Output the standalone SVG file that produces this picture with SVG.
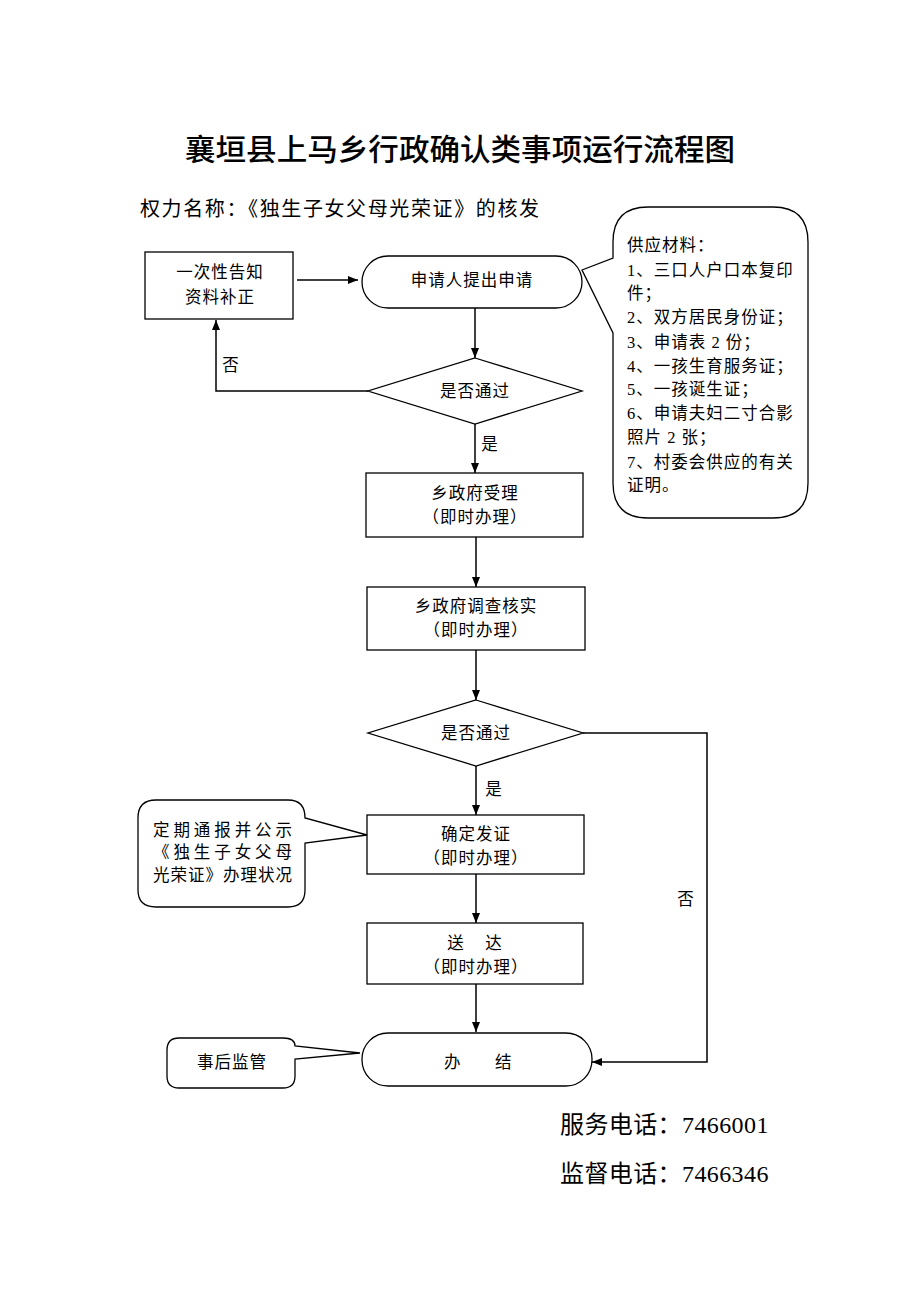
<svg xmlns="http://www.w3.org/2000/svg" width="920" height="1302" viewBox="0 0 920 1302">
<style>
.t{font-family:"Liberation Serif","Noto Sans CJK SC",serif;font-size:16.5px;letter-spacing:1px;fill:#000}
.c{text-anchor:middle}
.shape{fill:#fff;stroke:#000;stroke-width:1.3}
.ln{fill:none;stroke:#000;stroke-width:1.5}
</style>
<defs>
<marker id="ah" markerUnits="userSpaceOnUse" markerWidth="10" markerHeight="8" refX="10" refY="4" orient="auto">
<path d="M0,0 L10,4 L0,8 Z" fill="#000"/>
</marker>
</defs>
<rect width="920" height="1302" fill="#fff"/>

<g id="title">
<text x="185" y="160" textLength="550" lengthAdjust="spacingAndGlyphs" style="font-family:'Noto Sans CJK SC',sans-serif;font-size:30px;font-weight:500;fill:#000">襄垣县上马乡行政确认类事项运行流程图</text>
</g>
<g id="subtitle">
<text x="140" y="216" textLength="400" lengthAdjust="spacing" class="t" style="font-size:20px">权力名称：《独生子女父母光荣证》的核发</text>
</g>

<g id="connectors">
<line class="ln" x1="297" y1="280" x2="358" y2="280" marker-end="url(#ah)"/>
<line class="ln" x1="475" y1="308" x2="475" y2="358" marker-end="url(#ah)"/>
<polyline class="ln" points="368,391 216,391 216,320" marker-end="url(#ah)"/>
<line class="ln" x1="475" y1="424" x2="475" y2="473" marker-end="url(#ah)"/>
<line class="ln" x1="476" y1="537" x2="476" y2="587" marker-end="url(#ah)"/>
<line class="ln" x1="476" y1="650" x2="476" y2="700" marker-end="url(#ah)"/>
<line class="ln" x1="476" y1="766" x2="476" y2="815" marker-end="url(#ah)"/>
<line class="ln" x1="476" y1="874" x2="476" y2="923" marker-end="url(#ah)"/>
<line class="ln" x1="476" y1="984" x2="476" y2="1032" marker-end="url(#ah)"/>
<polyline class="ln" points="583,733 707,733 707,1062 592,1062" marker-end="url(#ah)"/>
<text class="t c" x="231" y="371">否</text>
<text class="t c" x="490" y="450">是</text>
<text class="t c" x="494" y="795">是</text>
<text class="t c" x="686" y="905">否</text>
</g>

<g id="notify">
<rect class="shape" x="145" y="252" width="148" height="67"/>
<text class="t c" x="220" y="278">一次性告知</text>
<text class="t c" x="220" y="303">资料补正</text>
</g>

<g id="apply">
<rect class="shape" x="362" y="256" width="220" height="52" rx="26" ry="26"/>
<text class="t c" x="472" y="286">申请人提出申请</text>
</g>

<g id="materials">
<path class="shape" d="M648,207 H773 Q808,207 808,242 V483 Q808,518 773,518 H648 Q613,518 613,483 V333 L582,270 L613,258 V242 Q613,207 648,207 Z"/>
<text class="t" x="627" y="251">供应材料：</text>
<text class="t" x="627" y="276">1、三口人户口本复印</text>
<text class="t" x="627" y="299">件；</text>
<text class="t" x="627" y="323">2、双方居民身份证；</text>
<text class="t" x="627" y="348">3、申请表 2 份；</text>
<text class="t" x="627" y="372">4、一孩生育服务证；</text>
<text class="t" x="627" y="395">5、一孩诞生证；</text>
<text class="t" x="627" y="419">6、申请夫妇二寸合影</text>
<text class="t" x="627" y="443">照片 2 张；</text>
<text class="t" x="627" y="468">7、村委会供应的有关</text>
<text class="t" x="627" y="491">证明。</text>
</g>

<g id="check1">
<polygon class="shape" points="475,358 582,391 475,424 368,391"/>
<text class="t c" x="475" y="397">是否通过</text>
</g>

<g id="accept">
<rect class="shape" x="366" y="473" width="217" height="64"/>
<text class="t c" x="475" y="499">乡政府受理</text>
<text class="t c" x="475" y="523">（即时办理）</text>
</g>

<g id="investigate">
<rect class="shape" x="367" y="587" width="218" height="63"/>
<text class="t c" x="476" y="612">乡政府调查核实</text>
<text class="t c" x="476" y="636">（即时办理）</text>
</g>

<g id="check2">
<polygon class="shape" points="476,700 583,733 476,766 368,733"/>
<text class="t c" x="476" y="739">是否通过</text>
</g>

<g id="issue">
<rect class="shape" x="367" y="815" width="217" height="59"/>
<text class="t c" x="476" y="840">确定发证</text>
<text class="t c" x="476" y="864">（即时办理）</text>
</g>

<g id="publicize">
<path class="shape" d="M156,800 H288 Q305,800 305,818 L367,835 L305,843 V890 Q305,907 288,907 H156 Q138,907 138,890 V818 Q138,800 156,800 Z"/>
<text class="t" x="153" y="836" textLength="140" lengthAdjust="spacing">定期通报并公示</text>
<text class="t" x="153" y="858" textLength="140" lengthAdjust="spacing">《独生子女父母</text>
<text class="t" x="153" y="881" textLength="140" lengthAdjust="spacing">光荣证》办理状况</text>
</g>

<g id="deliver">
<rect class="shape" x="367" y="923" width="216" height="61"/>
<text class="t c" x="475" y="949" xml:space="preserve">送    达</text>
<text class="t c" x="476" y="973">（即时办理）</text>
</g>

<g id="finish">
<rect class="shape" x="362" y="1033" width="230" height="53" rx="26" ry="26"/>
<text class="t" x="444" y="1068">办</text>
<text class="t" x="495" y="1068">结</text>
</g>

<g id="supervise">
<path class="shape" d="M179,1038 H283 Q295,1038 295,1046 L360,1053 L295,1059 V1076 Q295,1088 283,1088 H179 Q167,1088 167,1076 V1050 Q167,1038 179,1038 Z"/>
<text class="t c" x="232" y="1068">事后监管</text>
</g>

<g id="phones">
<text class="t" x="560" y="1133" style="font-size:24px;letter-spacing:0.4px">服务电话：7466001</text>
<text class="t" x="560" y="1182" style="font-size:24px;letter-spacing:0.4px">监督电话：7466346</text>
</g>
</svg>
